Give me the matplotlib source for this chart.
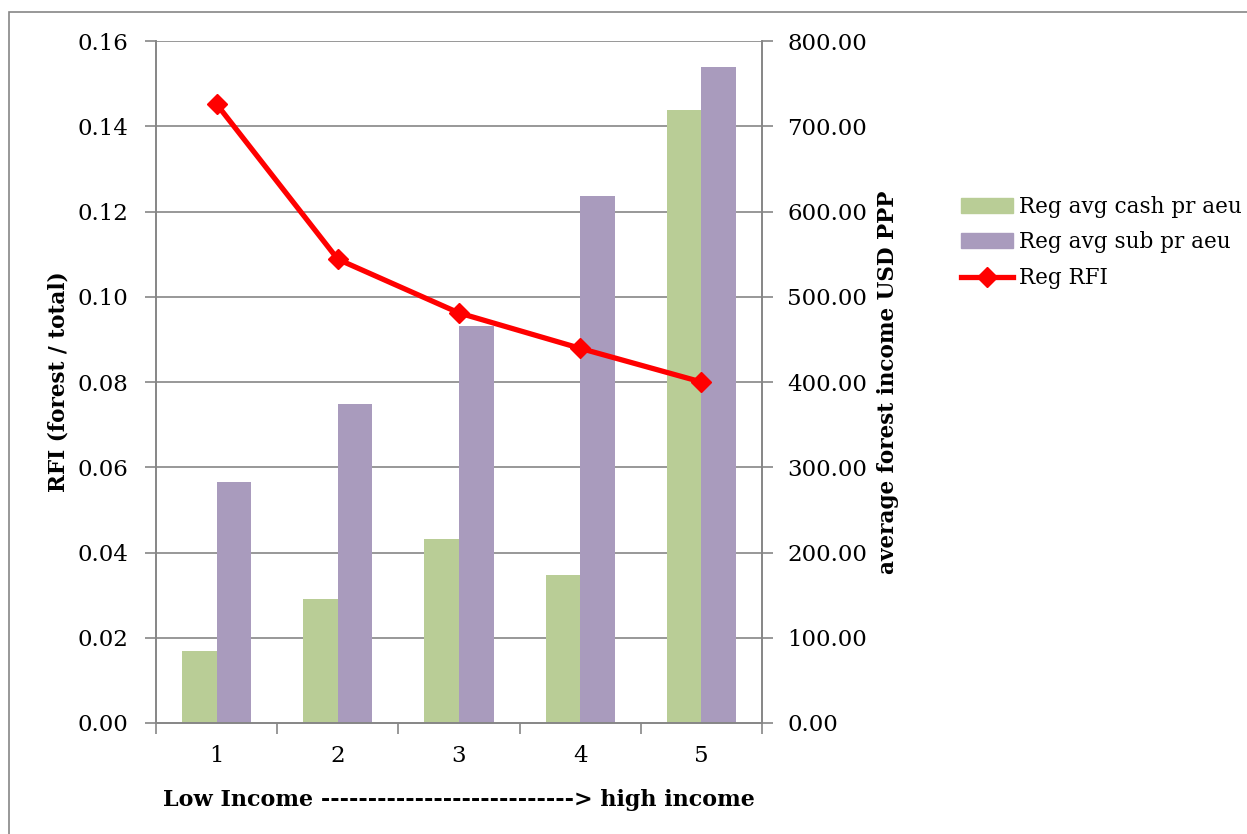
import numpy as np
import matplotlib.pyplot as plt
from matplotlib.patches import Rectangle
from matplotlib.lines import Line2D

# data
groups = ['1', '2', '3', '4', '5']
cash = [84.5, 145.2, 216.0, 173.3, 718.6]
sub = [282.5, 374.0, 465.5, 618.0, 769.5]
rfi = [0.1452, 0.1088, 0.0962, 0.0879, 0.0800]

plt.rcParams['font.family'] = ['DejaVu Serif']
grey = '#868686'
fs = 15.5
tfs = 16.5

fig = plt.figure(figsize=(12.47, 8.34), dpi=100)
ax = fig.add_axes([0.1251, 0.1331, 0.4860, 0.8177])
ax2 = ax.twinx()

x = np.arange(1, len(groups) + 1)
w = 0.285
ax2.bar(x - w / 2, cash, w, color='#b9cd96', label='Reg avg cash pr aeu', zorder=2)
ax2.bar(x + w / 2, sub, w, color='#a99bbd', label='Reg avg sub pr aeu', zorder=2)

# line on top of the bars
ax.set_zorder(ax2.get_zorder() + 1)
ax.patch.set_visible(False)
ax.plot(x, rfi, color='#ff0000', lw=3.8, marker='D', ms=10, label='Reg RFI', zorder=3)

ax.set_xlim(0.5, 5.5)
ax.set_ylim(0, 0.16)
ax2.set_ylim(0, 800)
ax.set_yticks(np.arange(0, 0.161, 0.02))
ax.set_yticklabels(['%.2f' % v for v in np.arange(0, 0.161, 0.02)])
ax2.set_yticks(np.arange(0, 801, 100))
ax2.set_yticklabels(['%.2f' % v for v in np.arange(0, 801, 100)])

# gridlines drawn on the bar axes so they sit behind the bars
for v in np.arange(100, 801, 100):
    ax2.axhline(v, color=grey, lw=1.2, zorder=1)

ax.set_xticks(x)
ax.set_xticklabels(groups)
ax.set_xticks(np.arange(0.5, 5.6, 1), minor=True)
ax.tick_params(axis='x', which='major', length=0, labelsize=tfs, pad=16)
ax.tick_params(axis='x', which='minor', length=8, color=grey, width=1.2)
ax.tick_params(axis='y', length=8, color=grey, width=1.2, labelsize=tfs, pad=12)
ax2.tick_params(axis='y', length=8, color=grey, width=1.2, labelsize=tfs, pad=10)

for a in (ax, ax2):
    a.spines['top'].set_visible(False)
    for s in ('left', 'right', 'bottom'):
        a.spines[s].set_color(grey)
        a.spines[s].set_linewidth(1.2)

ax.set_ylabel('RFI (forest / total)', fontsize=fs, fontweight='bold', labelpad=6)
ax2.set_ylabel('average forest income USD PPP', fontsize=fs, fontweight='bold',
               rotation=90, labelpad=7)
ax.set_xlabel('Low Income ---------------------------> high income',
              fontsize=16, fontweight='bold', labelpad=16)

handles = [Rectangle((0, 0), 1, 1, color='#b9cd96'),
           Rectangle((0, 0), 1, 1, color='#a99bbd'),
           Line2D([], [], color='#ff0000', lw=3.8, marker='D', ms=10)]
labels = ['Reg avg cash pr aeu', 'Reg avg sub pr aeu', 'Reg RFI']
fig.legend(handles, labels, loc='upper left', bbox_to_anchor=(0.762, 0.778),
           frameon=False, fontsize=fs, handlelength=2.4, handletextpad=0.3,
           labelspacing=0.63, borderpad=0)

# outer chart border (left and top edges visible)
fig.add_artist(Rectangle((9 / 1247, -0.1), 1.2, 1 - 12 / 834 + 0.1,
                         transform=fig.transFigure, fill=False,
                         edgecolor=grey, lw=1.2))

fig.savefig('out.png', dpi=100)
